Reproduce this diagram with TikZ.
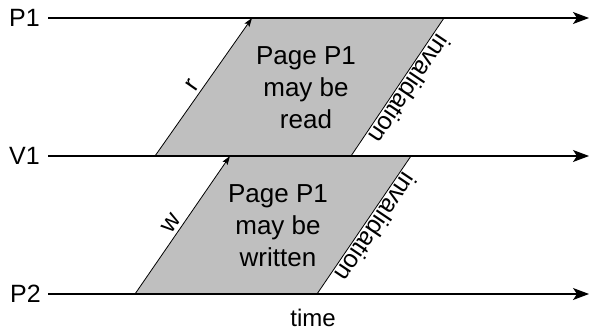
\documentclass[tikz,border=0pt]{standalone}
\usepackage{fontspec}
\setmainfont{Liberation Sans}
\usetikzlibrary{arrows.meta}
\begin{document}
\begin{tikzpicture}[x=1pt,y=-1pt,
  timeline/.style={line width=1.1pt,-{Stealth[length=16pt,width=12pt,inset=4pt]}},
  msg/.style={line width=0.8pt,-{Stealth[length=9pt,width=6pt,inset=2pt]}},
  inval/.style={line width=0.8pt},
  region/.style={fill=black!25,draw=none},
  lbl/.style={font=\fontsize{25}{28}\selectfont,inner sep=0pt},
  body/.style={font=\fontsize{26}{32}\selectfont,align=center,inner sep=0pt},
  edge/.style={font=\fontsize{25}{28}\selectfont,inner sep=0pt}]
\useasboundingbox (0,0) rectangle (589,332);
% region corners
\coordinate (a1) at (155,156); \coordinate (b1) at (252,18);
\coordinate (c1) at (444,18);  \coordinate (d1) at (351,156);
\coordinate (a2) at (135,294); \coordinate (b2) at (230,156);
\coordinate (c2) at (411,156); \coordinate (d2) at (317,294);
\fill[region] (a1) -- (b1) -- (c1) -- (d1) -- cycle;
\fill[region] (a2) -- (b2) -- (c2) -- (d2) -- cycle;
% process labels
\node[lbl,anchor=east] (lp1) at (40,18) {P1};
\node[lbl,anchor=east] (lv1) at (40,156) {V1};
\node[lbl,anchor=east] (lp2) at (41,294) {P2};
\coordinate (p1s) at (48,18);  \coordinate (p1e) at (589,18);
\coordinate (v1s) at (48,156); \coordinate (v1e) at (589,156);
\coordinate (p2s) at (48,294); \coordinate (p2e) at (589,294);
\draw[timeline] (p1s) -- (p1e);
\draw[timeline] (v1s) -- (v1e);
\draw[timeline] (p2s) -- (p2e);
% messages
\draw[msg] (a1) -- node[edge,pos=0.47,anchor=south,rotate=55,yshift=3pt] {r} (b1);
\draw[msg] (a2) -- node[edge,pos=0.47,anchor=south,rotate=55,yshift=3pt] {w} (b2);
\draw[inval] (c1) -- node[edge,pos=0.47,anchor=south,rotate=236,yshift=2pt] {invalidation} (d1);
\draw[inval] (c2) -- node[edge,pos=0.47,anchor=south,rotate=236,yshift=2pt] {invalidation} (d2);
% text
\node[body] (t1) at (306,88) {Page P1\\may be\\read};
\node[body] (t2) at (278,226) {Page P1\\may be\\written};
\node[lbl,font=\fontsize{24}{28}\selectfont] (time) at (313,318) {time};
\end{tikzpicture}
\end{document}
